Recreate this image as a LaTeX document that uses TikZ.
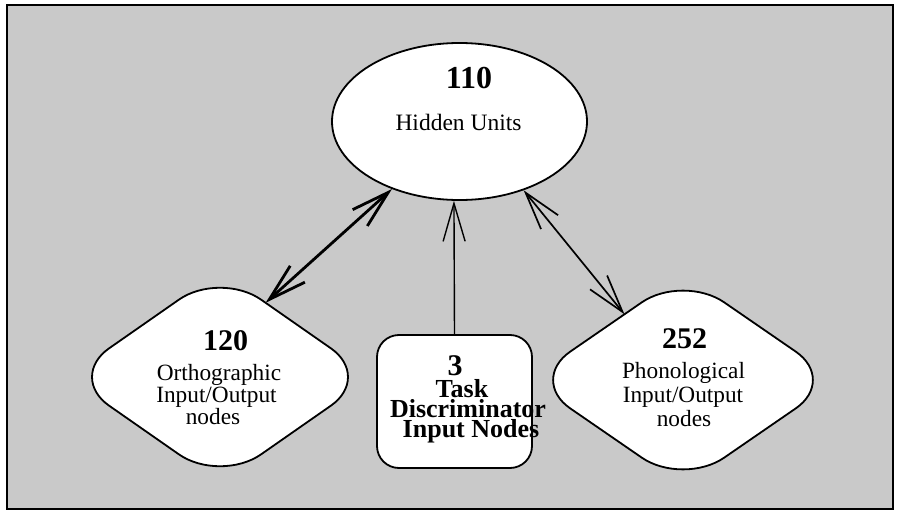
\documentclass[tikz,border=0pt]{standalone}
\usepackage{fontspec}
\setmainfont{Liberation Serif}
\usetikzlibrary{arrows.meta,calc,shapes.geometric}
\begin{document}
\begin{tikzpicture}[x=1pt,y=-1pt,
  shapeline/.style={draw=black,line width=1.8pt,fill=white},
  numtxt/.style={anchor=base,inner sep=0pt,font=\bfseries\fontsize{30}{30}\selectfont},
  lbltxt/.style={anchor=base,inner sep=0pt,font=\fontsize{23.3}{24}\selectfont},
  boxtxt/.style={anchor=base,inner sep=0pt,font=\bfseries\fontsize{26}{26}\selectfont},
  barbtip/.tip={Straight Barb[length=38pt,width=22pt]}
]
\useasboundingbox (0,0) rectangle (898,514);
\fill[white] (0,0) rectangle (898,514);
\draw[line width=2.4pt,fill=black!21] (7,5) rectangle (893,509);

% hidden units ellipse
\node[ellipse,shapeline,minimum width=255pt,minimum height=157pt,inner sep=0pt] (hid) at (459.5,121.5) {};
\node[anchor=base,inner sep=0pt,font=\bfseries\fontsize{32}{32}\selectfont] (n110) at (469,88) {110};
\node[anchor=base,inner sep=0pt,font=\fontsize{23.5}{24}\selectfont] (hidtxt) at (458.5,130) {Hidden Units};

% left diamond
\coordinate (lL) at (68,377);
\coordinate (lT) at (220,271);
\coordinate (lR) at (372,377);
\coordinate (lB) at (220,483);
\draw[shapeline,rounded corners=50pt] (lL) -- (lT) -- (lR) -- (lB) -- cycle;
\node[numtxt] (n120) at (225.5,350) {120};
\node[lbltxt] (orth1) at (219,380) {Orthographic};
\node[lbltxt] (orth2) at (216.5,402) {Input/Output};
\node[lbltxt] (orth3) at (213,424) {nodes};

% right diamond
\coordinate (rL) at (529,380);
\coordinate (rT) at (683,274);
\coordinate (rR) at (837,380);
\coordinate (rB) at (683,486);
\draw[shapeline,rounded corners=50pt] (rL) -- (rT) -- (rR) -- (rB) -- cycle;
\node[numtxt] (n252) at (684.5,348) {252};
\node[lbltxt] (phon1) at (683.5,378) {Phonological};
\node[lbltxt] (phon2) at (683,402) {Input/Output};
\node[lbltxt] (phon3) at (684,426) {nodes};

% task discriminator box
\node[shapeline,rectangle,rounded corners=22pt,minimum width=155pt,minimum height=133pt,inner sep=0pt] (box) at (454.5,401.5) {};
\node[anchor=base,inner sep=0pt,font=\bfseries\fontsize{30}{30}\selectfont] (n3) at (455,375) {3};
\node[boxtxt] (task1) at (462,397) {Task};
\node[boxtxt] (task2) at (468,417.5) {Discriminator};
\node[boxtxt] (task3) at (471,437) {Input Nodes};

% connectors
\coordinate (lda) at ($(lT)!0.3!(lR)$);
\coordinate (rda) at ($(rL)!0.62!(rT)$);
\draw[line width=2.8pt,barbtip-barbtip] (lda) -- (hid.225);
\draw[line width=1.7pt,barbtip-barbtip] (rda) -- (hid.313);
\draw[line width=1.4pt,-barbtip] (box.north) -- (hid.266);
\end{tikzpicture}
\end{document}
